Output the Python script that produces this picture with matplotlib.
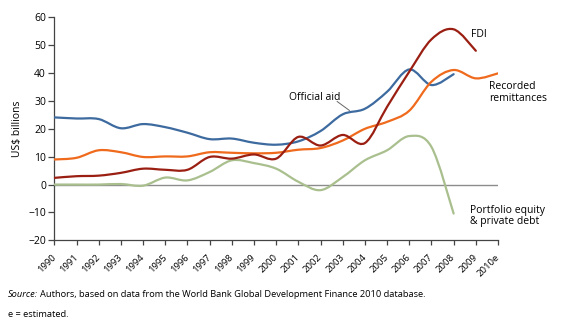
import numpy as np
import matplotlib
matplotlib.use("Agg")
from matplotlib import pyplot as plt
from matplotlib.path import Path
from matplotlib.patches import PathPatch
from matplotlib.transforms import ScaledTranslation

plt.rcParams['font.family'] = ['Open Sans', 'DejaVu Sans']

years = ['1990', '1991', '1992', '1993', '1994', '1995', '1996', '1997', '1998', '1999',
         '2000', '2001', '2002', '2003', '2004', '2005', '2006', '2007', '2008', '2009', '2010e']

# US$ billions
official_aid = [24.1, 23.7, 23.5, 20.2, 21.7, 20.6, 18.6, 16.3, 16.5, 15.0,
                14.3, 15.5, 19.2, 25.2, 27.2, 33.3, 41.3, 35.7, 39.6]
remittances = [9.0, 9.6, 12.3, 11.6, 9.9, 10.1, 10.1, 11.6, 11.4, 11.2,
               11.4, 12.5, 13.1, 15.8, 20.0, 22.5, 26.5, 36.9, 41.1, 38.1, 39.9]
fdi = [2.4, 3.0, 3.2, 4.2, 5.7, 5.3, 5.3, 9.9, 9.3, 10.8,
       9.3, 17.1, 14.0, 17.8, 14.9, 27.9, 40.5, 52.1, 55.7, 48.0]
portfolio = [0.0, 0.0, 0.0, 0.2, -0.4, 2.5, 1.5, 4.5, 8.7, 7.7,
             5.7, 1.0, -2.0, 2.7, 8.7, 12.3, 17.4, 13.5, -10.4]


def smooth_line(ax, values, color):
    # draw a smoothed line through the points with cubic bezier segments
    x = np.arange(len(values), dtype=float)
    y = np.asarray(values, dtype=float)
    pts = np.column_stack([x, y])
    padded = np.vstack([pts[0], pts, pts[-1]])
    verts = [pts[0]]
    codes = [Path.MOVETO]
    for i in range(len(pts) - 1):
        p0, p1, p2, p3 = padded[i], padded[i + 1], padded[i + 2], padded[i + 3]
        c1 = p1 + (p2 - p0) / 6.0
        c2 = p2 - (p3 - p1) / 6.0
        verts += [c1, c2, p2]
        codes += [Path.CURVE4] * 3
    patch = PathPatch(Path(verts, codes), fill=False, edgecolor=color, lw=1.6,
                      capstyle='round', joinstyle='round', zorder=3)
    ax.add_patch(patch)


fig = plt.figure(figsize=(5.70, 3.22), dpi=100)
ax = fig.add_axes([0.0953, 0.2537, 0.7784, 0.6925])

ax.axhline(0, color='#8c8c8c', lw=1.0, zorder=2)

smooth_line(ax, portfolio, '#a9bf8e')
smooth_line(ax, official_aid, '#3d6a9f')
smooth_line(ax, remittances, '#ef6a1c')
smooth_line(ax, fdi, '#9a1f12')

ax.set_xlim(0, len(years) - 1)
ax.set_ylim(-20, 60)
ax.set_yticks(np.arange(-20, 61, 10))
ax.set_yticklabels(['\u221220', '\u221210', '0', '10', '20', '30', '40', '50', '60'])
ax.set_xticks(np.arange(len(years)))
ax.set_xticklabels(years, rotation=45, ha='right', va='center', rotation_mode='anchor')
shift = ScaledTranslation(4 / 100, 0, fig.dpi_scale_trans)
for lbl in ax.get_xticklabels():
    lbl.set_transform(lbl.get_transform() + shift)

for side in ['top', 'right']:
    ax.spines[side].set_visible(False)
for side in ['left', 'bottom']:
    ax.spines[side].set_color('#444444')
    ax.spines[side].set_linewidth(0.9)

ax.tick_params(axis='y', direction='out', length=4, width=0.9, color='#444444',
               labelsize=7.5, pad=2)
ax.tick_params(axis='x', direction='out', length=3.3, width=0.9, color='#444444',
               labelsize=6.8, pad=8)
ax.set_ylabel('US$ billions', fontsize=7.5, labelpad=4)

# series labels
ax.text(18.8, 54, 'FDI', fontsize=7.5, va='center', ha='left')
ax.text(19.6, 33.0, 'Recorded\nremittances', fontsize=7.5, va='center', ha='left',
        linespacing=1.1)
ax.text(10.6, 31.3, 'Official aid', fontsize=7.5, va='center', ha='left')
ax.plot([12.75, 13.3], [29.8, 26.6], color='#666666', lw=0.7)
ax.text(18.75, -11.3, 'Portfolio equity\n& private debt', fontsize=7.5, va='center',
        ha='left', linespacing=1.1)

fig.text(0.014, 0.084, 'Source:', fontsize=6.7, style='italic', va='center', ha='left')
fig.text(0.071, 0.084, 'Authors, based on data from the World Bank Global Development Finance 2010 database.',
         fontsize=6.7, va='center', ha='left')
fig.text(0.014, 0.022, 'e = estimated.', fontsize=6.7, va='center', ha='left')

fig.savefig('out.png', dpi=100)
